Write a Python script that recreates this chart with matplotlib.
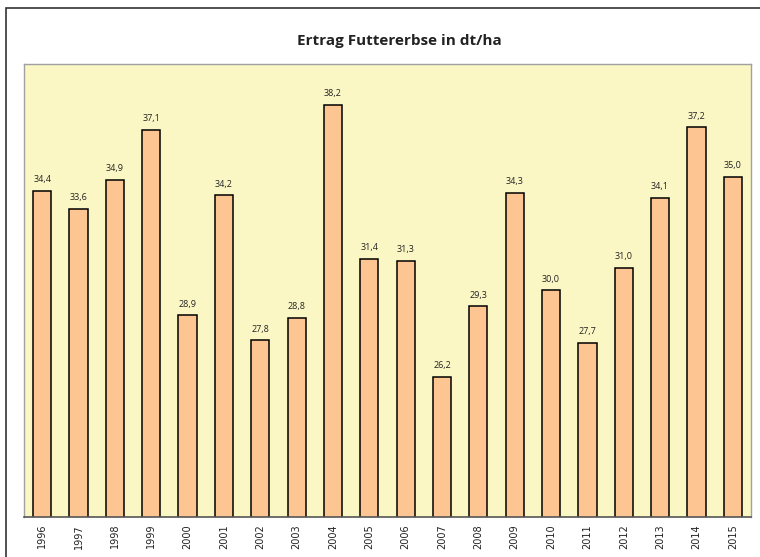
import matplotlib.pyplot as plt
from matplotlib.patches import Rectangle

# Jahreserträge Futtererbse (dt/ha)
jahre = [str(j) for j in range(1996, 2016)]
ertrag = [34.4, 33.6, 34.9, 37.1, 28.9, 34.2, 27.8, 28.8, 38.2, 31.4,
          31.3, 26.2, 29.3, 34.3, 30.0, 27.7, 31.0, 34.1, 37.2, 35.0]

plt.rcParams["font.family"] = ["Open Sans", "DejaVu Sans"]

fig = plt.figure(figsize=(7.6, 5.57), dpi=100)

# Rahmen um das Diagramm
fig.patches.append(Rectangle((6 / 760, -0.05), 1.0, 1 - 8 / 557 + 0.05,
                             transform=fig.transFigure, fill=False,
                             edgecolor="#333333", linewidth=1.2))

ax = fig.add_axes([24 / 760, 40 / 557, 727 / 760, 453 / 557])
ax.set_facecolor("#FBF7C5")

x = range(len(jahre))
ax.bar(x, ertrag, width=0.5, color="#FDC591", edgecolor="black", linewidth=1.1)

for xi, v in zip(x, ertrag):
    ax.text(xi, v + 0.3, f"{v:.1f}".replace(".", ","), ha="center", va="bottom",
            fontsize=6.5, color="#222222")

ax.set_xlim(-0.5, len(jahre) - 0.5)
ax.set_ylim(20, 40)
ax.set_yticks([])
ax.set_xticks(list(x))
ax.set_xticklabels(jahre, rotation=90, fontsize=7, color="#222222",
                   family="DejaVu Sans")
ax.tick_params(axis="x", length=0, pad=5)

for side in ["top", "left", "right"]:
    ax.spines[side].set_color("#a0a0a0")
    ax.spines[side].set_linewidth(1.0)
ax.spines["bottom"].set_color("#555555")
ax.spines["bottom"].set_linewidth(1.2)

fig.text(399 / 760, 1 - 41 / 557, "Ertrag Futtererbse in dt/ha", ha="center",
         va="center", fontsize=11, fontweight="bold", color="#222222")

fig.savefig("out.png", dpi=100)
